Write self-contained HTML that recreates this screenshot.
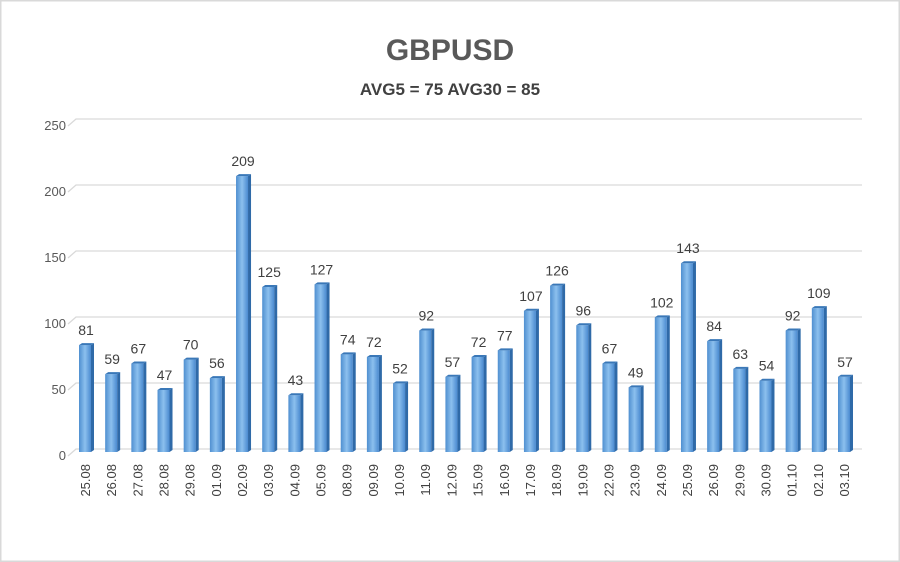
<!DOCTYPE html>
<html><head><meta charset="utf-8"><style>
body{margin:0;background:#fff}
svg{display:block}
</style></head><body>
<svg width="900" height="562" xmlns="http://www.w3.org/2000/svg" font-family="Liberation Sans, sans-serif">
<defs>
<linearGradient id="g" x1="0" x2="1" y1="0" y2="0">
<stop offset="0" stop-color="#4f8fd0"/><stop offset="0.5" stop-color="#8cc0ee"/><stop offset="1" stop-color="#4a8ad0"/>
</linearGradient>
</defs>
<rect x="0.5" y="0.5" width="899" height="561" fill="#fff" stroke="#d9d9d9" stroke-width="2"/>
<text x="450" y="60" text-anchor="middle" font-size="30" font-weight="bold" fill="#595959">GBPUSD</text>
<text x="450" y="95" text-anchor="middle" font-size="17" font-weight="bold" fill="#404040">AVG5 = 75 AVG30 = 85</text>
<g id="grid" stroke="#d9d9d9" stroke-width="1.3" fill="none"></g>
<g id="ylab" font-size="13" fill="#595959" text-anchor="end"></g>
<g id="bars"></g>
<g id="vals" font-size="14" fill="#404040" text-anchor="middle"></g>
<g id="xlab" font-size="13" fill="#404040"></g>
</svg>
<script>
var v=[81,59,67,47,70,56,209,125,43,127,74,72,52,92,57,72,77,107,126,96,67,49,102,143,84,63,54,92,109,57];
var d=["25.08","26.08","27.08","28.08","29.08","01.09","02.09","03.09","04.09","05.09","08.09","09.09","10.09","11.09","12.09","15.09","16.09","17.09","18.09","19.09","22.09","23.09","24.09","25.09","26.09","29.09","30.09","01.10","02.10","03.10"];
var ns="http://www.w3.org/2000/svg";
function el(t,a,p,txt){var e=document.createElementNS(ns,t);for(var k in a)e.setAttribute(k,a[k]);if(txt!=null)e.textContent=txt;document.getElementById(p).appendChild(e);return e;}
function Y(x){return 452-1.32*x;}
for(var i=0;i<=5;i++){var y=Y(i*50);
el("path",{d:"M68 "+(y+4)+" L76 "+(y-3)+" L862 "+(y-3)},"grid");
el("text",{x:66,y:y+8},"ylab",i*50);}
var n=v.length, x0=85, dx=(844-85)/(n-1);
for(var i=0;i<n;i++){var cx=x0+i*dx, y=Y(v[i]);
el("rect",{x:cx-6,y:y,width:12,height:452-y,fill:"url(#g)"},"bars");
el("path",{d:"M"+(cx+6)+" "+y+" L"+(cx+9)+" "+(y-2)+" L"+(cx+9)+" "+450+" L"+(cx+6)+" 452 Z",fill:"#2f6aa8"},"bars");
el("path",{d:"M"+(cx-6)+" "+y+" L"+(cx-3)+" "+(y-2)+" L"+(cx+9)+" "+(y-2)+" L"+(cx+6)+" "+y+" Z",fill:"#3a78b8"},"bars");
el("text",{x:cx+1,y:y-10},"vals",v[i]);
el("text",{x:0,y:0,transform:"translate("+(cx+5)+",464) rotate(-90)","text-anchor":"end"},"xlab",d[i]);}
</script>
</body></html>
